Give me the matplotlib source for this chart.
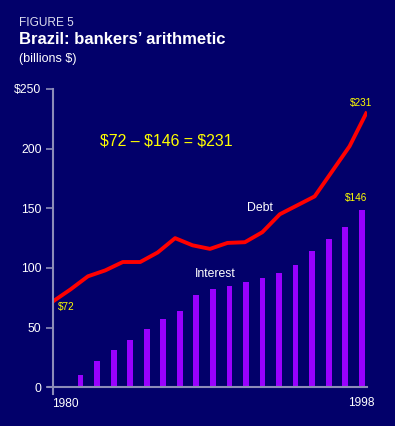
import matplotlib
matplotlib.use("Agg")
import matplotlib.pyplot as plt
import numpy as np

plt.rcParams['font.family'] = ['Liberation Sans', 'DejaVu Sans']

years = list(range(1980, 1999))
debt = [72, 82, 93, 98, 105, 105, 113, 125, 119, 116, 121, 121.6, 130, 145, 152.5, 160, 181, 202, 231]
interest = [10, 22, 31, 40, 49, 57, 64, 77, 82, 84.5, 88, 92, 96, 102.6, 114, 124, 134.5, 149]
yticks = [0, 50, 100, 150, 200, 250]
ytick_labels = ["0", "50", "100", "150", "200", "$250"]

BG = "#02006A"
AX = "#8C8CB8"
BAR = "#9A00FF"
YEL = "#FFFF00"

fig = plt.figure(figsize=(3.95, 4.26), dpi=100, facecolor=BG)
ax = fig.add_axes([53/395, (426-387.3)/426, (367-53)/395, (387.3-89)/426])
ax.set_facecolor(BG)
ax.set_xlim(1980, 1998)
ax.set_ylim(0, 250)

# bars are drawn slightly offset from the year grid, as in the original
bar_x = np.linspace(1981.58, 1997.70, len(interest))
ax.bar(bar_x, interest, width=0.33, color=BAR, zorder=2)
ax.plot(years, debt, color="#FF0000", lw=2.8, zorder=3, solid_capstyle='butt')

for s in ax.spines.values():
    s.set_visible(False)
ax.plot([1980, 1980], [-6, 250], color=AX, lw=1.5, clip_on=False, zorder=4)
ax.plot([1979.7, 1998], [0, 0], color=AX, lw=1.5, clip_on=False, zorder=4)

ax.set_yticks(yticks)
ax.set_yticklabels(ytick_labels)
ax.tick_params(axis='y', length=5, width=1.2, color=AX, labelcolor="white", labelsize=8.8, pad=3.3)
ax.set_xticks([])

ax.text(1979.95, -9, "1980", color="white", fontsize=8.6, ha='left', va='top')
ax.text(1998.45, -8, "1998", color="white", fontsize=8.6, ha='right', va='top')

fig.text(19/395, 1-23/426, "FIGURE 5", color="#DDDDEE", fontsize=8.6, ha='left', va='center')
fig.text(19/395, 1-40/426, "Brazil: bankers\u2019 arithmetic", color="white", fontsize=12, fontweight='bold', ha='left', va='center')
fig.text(19/395, 1-59/426, "(billions $)", color="white", fontsize=9, ha='left', va='center')

fig.text(166/395, 1-141/426, "$72 \u2013 $146 = $231", color=YEL, fontsize=11.4, ha='center', va='center')
fig.text(259.5/395, 1-208/426, "Debt", color="white", fontsize=8.8, ha='center', va='center')
fig.text(215.5/395, 1-274/426, "Interest", color="white", fontsize=8.8, ha='center', va='center')
fig.text(66/395, 1-307/426, "$72", color=YEL, fontsize=7.2, ha='center', va='center')
fig.text(361/395, 1-103/426, "$231", color=YEL, fontsize=7.2, ha='center', va='center')
fig.text(356/395, 1-198/426, "$146", color=YEL, fontsize=7.2, ha='center', va='center')

fig.savefig("out.png", dpi=100, facecolor=BG)
